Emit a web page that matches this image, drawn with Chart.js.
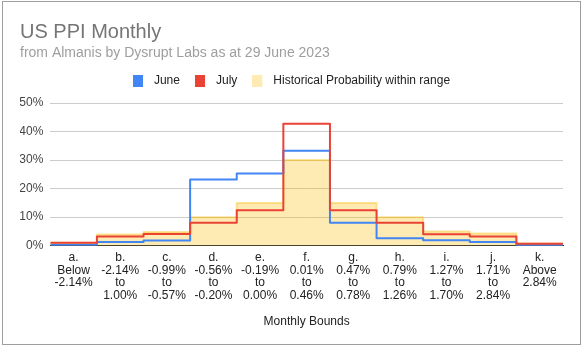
<!DOCTYPE html>
<html>
<head>
<meta charset="utf-8">
<script src="https://cdn.jsdelivr.net/npm/chart.js@4/dist/chart.umd.min.js"></script>
<style>
  html, body { margin: 0; padding: 0; background: #fff; }
  #frame { position: absolute; left: 2px; top: 1px; width: 577px; height: 342px; border: 1px solid #9e9e9e; }
  canvas { display: block; }
</style>
</head>
<body>
<div id="frame"><canvas id="ppiChart" width="577" height="342"></canvas></div>
<script>
const bounds = [
  ['a.', 'Below', '-2.14%'],
  ['b.', '-2.14%', 'to', '1.00%'],
  ['c.', '-0.99%', 'to', '-0.57%'],
  ['d.', '-0.56%', 'to', '-0.20%'],
  ['e.', '-0.19%', 'to', '0.00%'],
  ['f.', '0.01%', 'to', '0.46%'],
  ['g.', '0.47%', 'to', '0.78%'],
  ['h.', '0.79%', 'to', '1.26%'],
  ['i.', '1.27%', 'to', '1.70%'],
  ['j.', '1.71%', 'to', '2.84%'],
  ['k.', 'Above', '2.84%']
];
const june = [0.3, 1.3, 1.8, 23.2, 25.3, 33.3, 8.0, 2.6, 1.9, 1.3, 0.2];
const july = [1.0, 3.2, 4.1, 8.0, 12.4, 42.7, 12.4, 8.0, 4.0, 3.2, 0.7];
const historical = [1.0, 3.9, 4.8, 10.0, 15.0, 30.0, 15.0, 10.0, 5.0, 4.3, 0.8];
const yMax = 50;
const yStep = 10;

// each bin starts at its index; the last value is held to the right edge
function toSteps(values) {
  const pts = values.map((v, i) => ({x: i, y: v}));
  pts.push({x: values.length, y: values[values.length - 1]});
  return pts;
}

// legend swatch: coloured box with some blank room on its right
function swatch(color) {
  const c = document.createElement('canvas');
  c.width = 15;
  c.height = 12;
  const g = c.getContext('2d');
  g.fillStyle = color;
  g.fillRect(0, 0, 10, 12);
  return c;
}

Chart.defaults.font.family = 'Arial, "Liberation Sans", sans-serif';
Chart.defaults.color = '#222';

// a bit more room under the legend
const legendGap = {
  id: 'legendGap',
  beforeInit(chart) {
    const fit = chart.legend.fit;
    chart.legend.fit = function () {
      fit.bind(chart.legend)();
      this.height += 6;
    };
  }
};

const ctx = document.getElementById('ppiChart').getContext('2d');
new Chart(ctx, {
  type: 'line',
  data: {
    datasets: [
      {
        label: 'June',
        data: toSteps(june),
        stepped: true,
        borderColor: '#4285f4',
        backgroundColor: '#4285f4',
        borderWidth: 2,
        borderJoinStyle: 'round',
        pointRadius: 0,
        fill: false,
        order: 2
      },
      {
        label: 'July',
        data: toSteps(july),
        stepped: true,
        borderColor: '#ea4335',
        backgroundColor: '#ea4335',
        borderWidth: 2,
        borderJoinStyle: 'round',
        pointRadius: 0,
        fill: false,
        order: 1
      },
      {
        label: 'Historical Probability within range',
        data: toSteps(historical),
        stepped: true,
        borderColor: 'rgba(251, 188, 4, 0.4)',
        backgroundColor: 'rgba(251, 188, 4, 0.3)',
        borderWidth: 2,
        borderJoinStyle: 'round',
        pointRadius: 0,
        fill: 'origin',
        order: 3
      }
    ]
  },
  options: {
    responsive: false,
    animation: false,
    devicePixelRatio: 1,
    layout: { padding: { left: 17, right: 17, top: 0, bottom: 15 } },
    plugins: {
      title: {
        display: true,
        text: 'US PPI Monthly',
        align: 'start',
        color: '#757575',
        font: { size: 20, weight: 'normal' },
        padding: { top: 18, bottom: 0 }
      },
      subtitle: {
        display: true,
        text: 'from Almanis by Dysrupt Labs as at 29 June 2023',
        align: 'start',
        color: '#9e9e9e',
        font: { size: 14, weight: 'normal', lineHeight: 1.0 },
        padding: { top: 2, bottom: 0 }
      },
      legend: {
        labels: {
          usePointStyle: true,
          pointStyleWidth: 15,
          boxHeight: 12,
          padding: 15,
          color: '#222',
          font: { size: 12 },
          sort: (a, b) => a.datasetIndex - b.datasetIndex,
          generateLabels(chart) {
            const items = Chart.defaults.plugins.legend.labels.generateLabels(chart);
            items.forEach(it => {
              const ds = chart.data.datasets[it.datasetIndex];
              it.pointStyle = swatch(ds.backgroundColor);
              it.lineWidth = 0;
            });
            return items;
          }
        }
      },
      tooltip: { enabled: false }
    },
    scales: {
      x: {
        type: 'linear',
        min: 0,
        max: bounds.length,
        z: 1,
        grid: { display: false, drawTicks: false },
        border: { display: true, color: '#333', width: 1 },
        afterBuildTicks(scale) {
          scale.ticks = bounds.map((_, i) => ({ value: i + 0.5 }));
        },
        ticks: {
          autoSkip: false,
          maxRotation: 0,
          padding: 6,
          color: '#222',
          font: { size: 12, lineHeight: 1.04 },
          callback: (value, index) => bounds[index]
        },
        title: {
          display: true,
          text: 'Monthly Bounds',
          color: '#222',
          font: { size: 12 },
          padding: { top: 7, bottom: 0 }
        }
      },
      y: {
        min: 0,
        max: yMax,
        afterFit(scale) { scale.width = 30.3; },
        grid: { color: '#cccccc', drawTicks: false },
        border: { display: false },
        ticks: {
          stepSize: yStep,
          padding: 7,
          color: '#444',
          font: { size: 12 },
          callback: v => v + '%'
        }
      }
    }
  },
  plugins: [legendGap]
});
</script>
</body>
</html>
